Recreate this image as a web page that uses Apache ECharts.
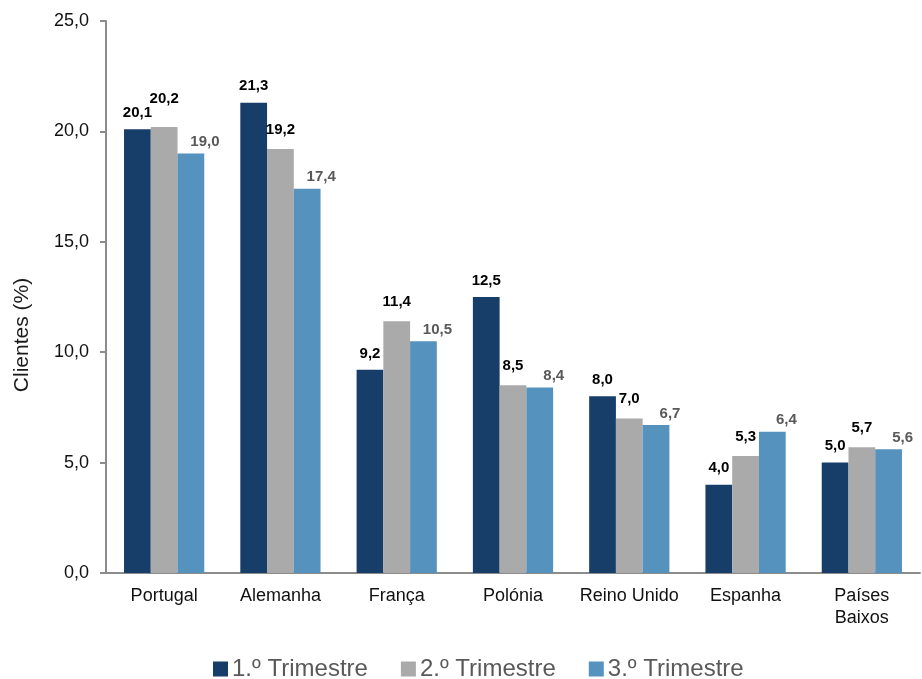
<!DOCTYPE html>
<html>
<head>
<meta charset="utf-8">
<script src="https://cdn.jsdelivr.net/npm/echarts@6/dist/echarts.min.js"></script>
<style>
  html, body { margin: 0; padding: 0; background: #fff; }
  #main { width: 922px; height: 679px; }
</style>
</head>
<body>
<div id="main"></div>
<script>
var countries = ['Portugal', 'Alemanha', 'França', 'Polónia', 'Reino Unido', 'Espanha', 'Países\nBaixos'];
var seriesNames = ['1.º Trimestre', '2.º Trimestre', '3.º Trimestre'];
var q1 = [20.1, 21.3, 9.2, 12.5, 8.0, 4.0, 5.0];
var q2 = [20.2, 19.2, 11.4, 8.5, 7.0, 5.3, 5.7];
var q3 = [19.0, 17.4, 10.5, 8.4, 6.7, 6.4, 5.6];
var yTicks = [0, 5, 10, 15, 20, 25];

var font = 'Liberation Sans, Arial, sans-serif';
var chart = echarts.init(document.getElementById('main'));

function fmt(v) {
  return Number(v).toFixed(1).replace('.', ',');
}

function barLabel(color, dist, offset) {
  return {
    show: true,
    position: 'top',
    distance: dist,
    offset: offset,
    color: color,
    fontFamily: font,
    fontWeight: 'bold',
    fontSize: 15,
    formatter: function (p) { return fmt(p.value); }
  };
}

var option = {
  animation: false,
  color: ['#173d69', '#aaaaaa', '#5592bd'],
  grid: { left: 106, right: 2, top: 21, bottom: 106 },
  legend: {
    top: 652,
    left: 208,
    itemWidth: 15,
    itemHeight: 15,
    itemGap: 33,
    icon: 'rect',
    textStyle: { fontFamily: font, fontSize: 24, color: '#595959', padding: [0, 0, 0, -1] },
    data: seriesNames
  },
  graphic: [{
    type: 'text',
    x: 12,
    y: 335,
    rotation: Math.PI / 2,
    style: {
      text: 'Clientes (%)',
      font: '21px ' + font,
      fill: '#1a1a1a',
      align: 'center',
      verticalAlign: 'top'
    }
  }],
  xAxis: {
    type: 'category',
    data: countries,
    axisLine: { lineStyle: { color: '#8c8c8c', width: 2 } },
    axisTick: { show: false },
    axisLabel: { fontFamily: font, fontSize: 18, color: '#111', margin: 12, lineHeight: 22, interval: 0 }
  },
  yAxis: {
    type: 'value',
    min: yTicks[0],
    max: yTicks[yTicks.length - 1],
    interval: 5,
    splitLine: { show: false },
    axisLine: { show: true, lineStyle: { color: '#8c8c8c', width: 2 } },
    axisTick: { show: true, length: 6, lineStyle: { color: '#8c8c8c', width: 2 } },
    axisLabel: { fontFamily: font, fontSize: 18, color: '#111', margin: 17, formatter: fmt }
  },
  series: [
    { name: seriesNames[0], type: 'bar', data: q1, barGap: '0%', barCategoryGap: '31%',
      label: barLabel('#000', 9, [0, 0]) },
    { name: seriesNames[1], type: 'bar', data: q2, barGap: '0%', barCategoryGap: '31%',
      label: barLabel('#000', 12, [0, 0]),
      // Portugal's label sits higher in the original to clear its neighbour
      labelLayout: function (p) { return p.dataIndex === 0 ? { dy: -9 } : {}; } },
    { name: seriesNames[2], type: 'bar', data: q3, barGap: '0%', barCategoryGap: '31%',
      label: barLabel('#595959', 4, [14, 0]) }
  ]
};

chart.setOption(option);
</script>
</body>
</html>
